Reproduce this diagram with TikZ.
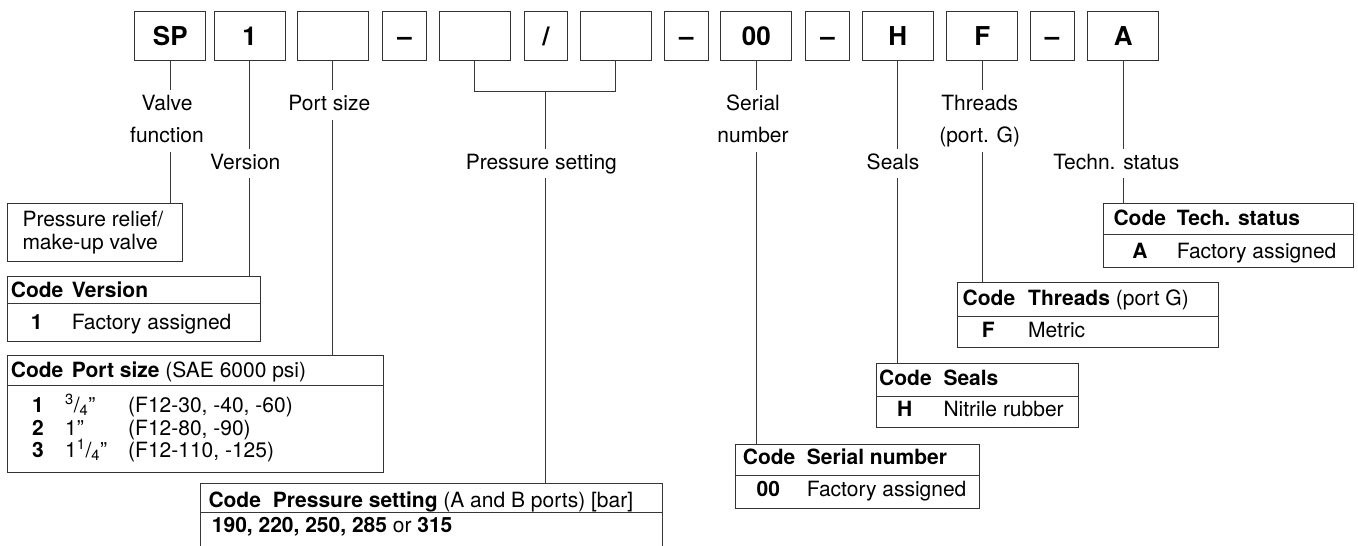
\documentclass[tikz,border=0pt]{standalone}
\usepackage{fontspec}
\setmainfont{TeX Gyre Heros}
\usetikzlibrary{calc}
\tikzset{
  x={(1pt,0)}, y={(0,-1pt)},
  ln/.style={draw=black!78, line width=0.9pt},
  cbox/.style={draw=black!80, line width=1pt, minimum height=48.3pt, inner sep=0pt,
    font=\fontsize{26}{30}\selectfont\bfseries, text height=19pt, text depth=0pt},
  wbox/.style={cbox, minimum width=71pt},
  nbox/.style={cbox, minimum width=43.7pt},
  lbl/.style={font=\fontsize{21}{25}\selectfont, inner xsep=0pt, inner ysep=5pt,
    text height=15pt, text depth=4pt, anchor=base},
  txt/.style={font=\fontsize{21}{25}\selectfont, inner sep=0pt, anchor=base west},
  ctxt/.style={font=\fontsize{21}{25}\selectfont\bfseries, inner sep=0pt, anchor=base},
  tab/.style={draw=black!80, line width=1pt, inner sep=0pt, anchor=north west},
}
\begin{document}
\begin{tikzpicture}
\useasboundingbox (0,0) rectangle (1358,546);

% code boxes
\node[wbox] (b1)  at (170.3,35.85) {SP};
\node[wbox] (b2)  at (249.5,35.85) {1};
\node[wbox] (b3)  at (332.5,35.85) {};
\node[nbox] (b4)  at (404.5,35.85) {--};
\node[wbox] (b5)  at (474.5,35.85) {};
\node[nbox] (b6)  at (546,35.85) {/};
\node[wbox] (b7)  at (615.8,35.85) {};
\node[nbox] (b8)  at (686.3,35.85) {--};
\node[wbox] (b9)  at (756.3,35.85) {00};
\node[nbox] (b10) at (827.7,35.85) {--};
\node[wbox] (b11) at (897.8,35.85) {H};
\node[wbox] (b12) at (982.2,35.85) {F};
\node[nbox] (b13) at (1052.2,35.85) {--};
\node[wbox] (b14) at (1123.2,35.85) {A};

% labels
\node[lbl] (lValve) at (167,110.5) {Valve};
\node[lbl] (lFunc)  at (167,142.5) {function};
\node[lbl] (lVer)   at (245.3,169.2) {Version};
\node[lbl] (lPort)  at (329.3,110.5) {Port size};
\node[lbl] (lPress) at (541.3,169.2) {Pressure setting};
\node[lbl] (lSer)   at (753,110.5) {Serial};
\node[lbl] (lNum)   at (753,142.5) {number};
\node[lbl] (lSeal)  at (893,169.2) {Seals};
\node[lbl] (lThr)   at (979.7,110.5) {Threads};
\node[lbl] (lPortG) at (979.7,142.5) {(port. G)};
\node[lbl] (lTech)  at (1116.3,169.2) {Techn. status};

% valve function box
\node[tab, minimum width=175pt, minimum height=57.4pt] (tValve) at (7.3,203.3) {};
\node[txt] at (22.3,226.5) {Pressure relief/};
\node[txt] at (22.3,249.2) {make-up valve};

% version table
\node[tab, minimum width=252.7pt, minimum height=65pt] (tVer) at (7.3,275.7) {};
\draw[ln] ($(tVer.north west)+(0,28)$) -- ($(tVer.north east)+(0,28)$);
\node[txt] at (10.7,297.5) {\textbf{Code}};
\node[txt] at (71.7,297.5) {\textbf{Version}};
\node[ctxt] at (36.7,329.2) {1};
\node[txt] at (71.7,329.2) {Factory assigned};

% port size table
\node[tab, minimum width=376pt, minimum height=116.7pt] (tPort) at (7.3,355) {};
\draw[ln] ($(tPort.north west)+(0,30)$) -- ($(tPort.north east)+(0,30)$);
\node[txt] at (10.7,377.5) {\textbf{Code}};
\node[txt] at (71.7,377.5) {\textbf{Port size} (SAE 6000 psi)};
\node[ctxt] at (38,412.5) {1};
\node[txt] at (65,412.5) {\textsuperscript{3}/\textsubscript{4}”};
\node[txt] at (128,412.5) {(F12-30, -40, -60)};
\node[ctxt] at (38,435.2) {2};
\node[txt] at (65,435.2) {1”};
\node[txt] at (128,435.2) {(F12-80, -90)};
\node[ctxt] at (38,457.5) {3};
\node[txt] at (65,457.5) {1\textsuperscript{1}/\textsubscript{4}”};
\node[txt] at (128,457.5) {(F12-110, -125)};

% pressure table (open at bottom)
\node[inner sep=0pt, anchor=north west, minimum width=461pt, minimum height=66pt] (tPress) at (200.7,483.3) {};
\draw[ln] (tPress.south west) -- (tPress.north west) -- (tPress.north east) -- (tPress.south east);
\draw[ln] ($(tPress.north west)+(0,29)$) -- ($(tPress.north east)+(0,29)$);
\node[txt] at (208.3,507.5) {\textbf{Code}};
\node[txt] at (272.7,507.5) {\textbf{Pressure setting} (A and B ports) [bar]};
\node[txt] at (211.7,532.5) {\textbf{190, 220, 250, 285} or \textbf{315}};

% serial table
\node[tab, minimum width=244.3pt, minimum height=64pt] (tSer) at (734.7,443.7) {};
\draw[ln] ($(tSer.north west)+(0,32)$) -- ($(tSer.north east)+(0,32)$);
\node[txt] at (742.7,464.8) {\textbf{Code}};
\node[txt] at (806.7,464.8) {\textbf{Serial number}};
\node[ctxt] at (768.3,496.2) {00};
\node[txt] at (806.7,496.2) {Factory assigned};

% seals table
\node[tab, minimum width=202pt, minimum height=63.7pt] (tSeal) at (876,363.3) {};
\draw[ln] ($(tSeal.north west)+(0,33.4)$) -- ($(tSeal.north east)+(0,33.4)$);
\node[txt] at (879,385.8) {\textbf{Code}};
\node[txt] at (943.3,385.8) {\textbf{Seals}};
\node[ctxt] at (904.7,416.5) {H};
\node[txt] at (943.3,416.5) {Nitrile rubber};

% threads table
\node[tab, minimum width=260.4pt, minimum height=64.4pt] (tThr) at (957.3,282.3) {};
\draw[ln] ($(tThr.north west)+(0,34.4)$) -- ($(tThr.north east)+(0,34.4)$);
\node[txt] at (962.5,305.8) {\textbf{Code}};
\node[txt] at (1028,305.8) {\textbf{Threads} (port G)};
\node[ctxt] at (988.3,337.5) {F};
\node[txt] at (1028,337.5) {Metric};

% tech status table
\node[tab, minimum width=249.4pt, minimum height=64pt] (tTech) at (1103.3,203.3) {};
\draw[ln] ($(tTech.north west)+(0,31.2)$) -- ($(tTech.north east)+(0,31.2)$);
\node[txt] at (1113.3,225.8) {\textbf{Code}};
\node[txt] at (1176.7,225.8) {\textbf{Tech. status}};
\node[ctxt] at (1140,258.5) {A};
\node[txt] at (1176.7,258.5) {Factory assigned};

% connectors
\draw[ln] (b1.south) -- (b1.south |- lValve.north);
\draw[ln] (b1.south |- lFunc.south) -- (b1.south |- tValve.north);
\draw[ln] (b2.south) -- (b2.south |- lVer.north);
\draw[ln] (b2.south |- lVer.south) -- (b2.south |- tVer.north);
\draw[ln] (b3.south) -- (b3.south |- lPort.north);
\draw[ln] (b3.south |- lPort.south) -- (b3.south |- tPort.north);
\draw[ln] (b5.south) -- ++(0,30.7) -| (b7.south);
\coordinate (brk) at ($(b5.south)!0.5!(b7.south)+(0,30.7)$);
\draw[ln] (brk) -- (brk |- lPress.north);
\draw[ln] (brk |- lPress.south) -- (brk |- tPress.north);
\draw[ln] (b9.south) -- (b9.south |- lSer.north);
\draw[ln] (b9.south |- lNum.south) -- (b9.south |- tSer.north);
\draw[ln] (b11.south) -- (b11.south |- lSeal.north);
\draw[ln] (b11.south |- lSeal.south) -- (b11.south |- tSeal.north);
\draw[ln] (b12.south) -- (b12.south |- lThr.north);
\draw[ln] (b12.south |- lPortG.south) -- (b12.south |- tThr.north);
\draw[ln] (b14.south) -- (b14.south |- lTech.north);
\draw[ln] (b14.south |- lTech.south) -- (b14.south |- tTech.north);
\end{tikzpicture}
\end{document}
